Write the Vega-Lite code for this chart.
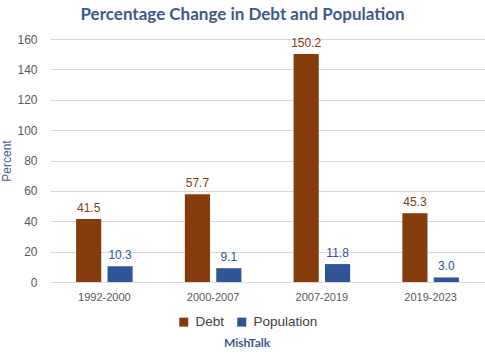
{
  "$schema": "https://vega.github.io/schema/vega-lite/v6.json",
  "width": 435,
  "height": 243,
  "autosize": {"type": "none"},
  "padding": {"left": 50, "top": 39, "right": 0, "bottom": 77},
  "background": "white",
  "title": {
    "text": "Percentage Change in Debt and Population",
    "font": "Lato",
    "fontSize": 17,
    "fontWeight": "bold",
    "color": "#3D5A8A",
    "anchor": "middle",
    "frame": "group",
    "dx": -25,
    "offset": 9
  },
  "data": {
    "values": [
      {"period": "1992-2000", "series": "Debt", "value": 41.5},
      {"period": "1992-2000", "series": "Population", "value": 10.3},
      {"period": "2000-2007", "series": "Debt", "value": 57.7},
      {"period": "2000-2007", "series": "Population", "value": 9.1},
      {"period": "2007-2019", "series": "Debt", "value": 150.2},
      {"period": "2007-2019", "series": "Population", "value": 11.8},
      {"period": "2019-2023", "series": "Debt", "value": 45.3},
      {"period": "2019-2023", "series": "Population", "value": 3.0}
    ]
  },
  "encoding": {
    "x": {
      "field": "period",
      "type": "nominal",
      "sort": null,
      "scale": {"paddingInner": 0.48, "paddingOuter": 0.24},
      "axis": {
        "title": null,
        "labelAngle": 0,
        "labelFont": "Liberation Sans",
        "labelFontSize": 11,
        "labelColor": "#595959",
        "labelPadding": 9,
        "ticks": false,
        "domainColor": "#d9d9d9"
      }
    },
    "xOffset": {
      "field": "series",
      "type": "nominal",
      "scale": {"paddingInner": 0.2, "paddingOuter": 0}
    },
    "y": {
      "field": "value",
      "type": "quantitative",
      "scale": {"domain": [0, 160]},
      "axis": {
        "title": "Percent",
        "titleFont": "Liberation Sans",
        "titleFontSize": 12,
        "titleFontWeight": "normal",
        "titleColor": "#44618F",
        "titlePadding": 3,
        "labelFont": "Liberation Sans",
        "labelFontSize": 12,
        "labelColor": "#595959",
        "labelPadding": 13,
        "labelOverlap": false,
        "values": [0, 20, 40, 60, 80, 100, 120, 140, 160],
        "ticks": false,
        "domain": false,
        "gridColor": "#d9d9d9"
      }
    }
  },
  "layer": [
    {
      "mark": {"type": "bar"},
      "encoding": {
        "color": {
          "field": "series",
          "type": "nominal",
          "scale": {"domain": ["Debt", "Population"], "range": ["#843C0C", "#2F5597"]},
          "legend": {
            "title": "MishTalk",
            "orient": "none",
            "legendX": 127,
            "legendY": 276,
            "direction": "horizontal",
            "titleOrient": "bottom",
            "titleAnchor": "middle",
            "titleFont": "Lato",
            "titleFontSize": 12,
            "titleFontWeight": "bold",
            "titleColor": "#3D5A8A",
            "titlePadding": 9,
            "labelFont": "Liberation Sans",
            "labelFontSize": 13.5,
            "labelColor": "#404040",
            "symbolType": "square",
            "symbolSize": 81,
            "symbolStrokeWidth": 0,
            "columnPadding": 10,
            "labelOffset": 5
          }
        }
      }
    },
    {
      "mark": {"type": "text", "dy": -11, "font": "Liberation Sans", "fontSize": 12},
      "encoding": {
        "text": {"field": "value", "type": "quantitative", "format": ".1f"},
        "color": {
          "field": "series",
          "type": "nominal",
          "scale": {"domain": ["Debt", "Population"], "range": ["#8A4A1E", "#2F5597"]},
          "legend": null
        }
      }
    }
  ],
  "config": {"view": {"stroke": null}}
}
